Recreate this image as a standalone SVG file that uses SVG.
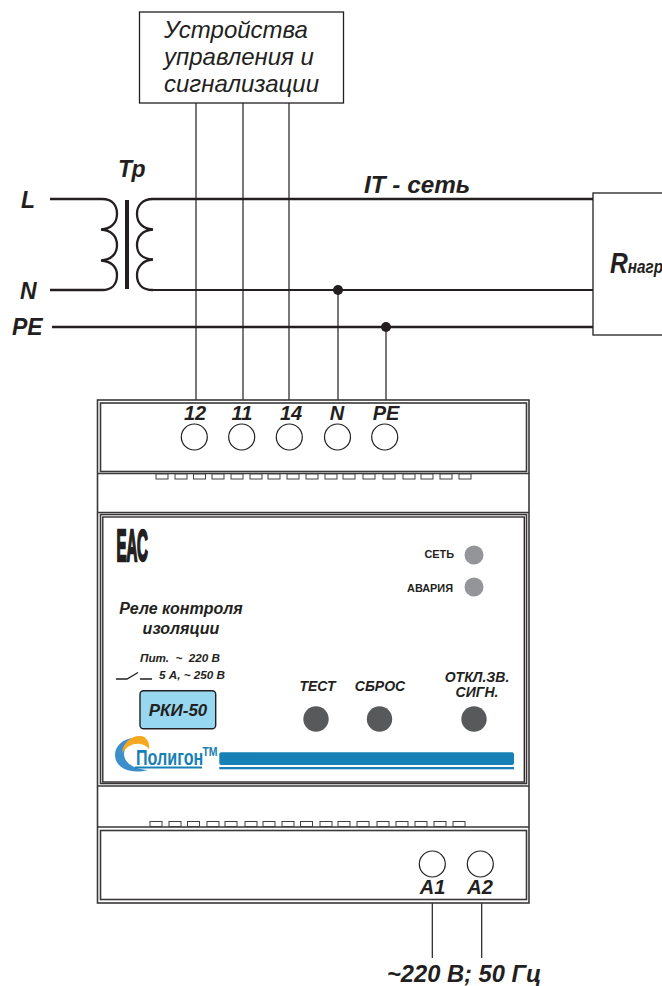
<svg xmlns="http://www.w3.org/2000/svg" width="662" height="986" viewBox="0 0 662 986">
<style>
text{font-family:"Liberation Sans",Arial,sans-serif;fill:#231f20;white-space:pre}
.bi{font-weight:bold;font-style:italic}
.i{font-style:italic}
.m{text-anchor:middle}
.b{fill:none;stroke:#231f20;stroke-width:1.3}
.d{fill:none;stroke:#3a3839;stroke-width:1.6}
.w{fill:none;stroke:#231f20;stroke-width:1.2}
.h{fill:none;stroke:#231f20;stroke-width:2.3}
.t{fill:#fff;stroke:#231f20;stroke-width:1.2}
.tab{fill:#fff;stroke:#414042;stroke-width:1}
.led{fill:#939598}
.btn{fill:#58595b}
.t20{font-size:20px}
.b13{font-size:14px}
</style>
<rect width="662" height="986" fill="#fff"/>
<g id="connectors">
<path class="w" d="M196 103V400M243 103V400M289 103V400M338 290V400M386 327V400M432.3 903V958M481.7 903V958"/>
<path class="h" d="M50 199H102M50 290H102M153 199H593M52 327H593"/>
<path class="h" style="stroke-width:1.9" d="M153 290H593"/>
<circle cx="338" cy="290" r="5" fill="#231f20"/>
<circle cx="386" cy="327" r="5" fill="#231f20"/>
</g>
<g id="control-box">
<rect class="b" x="139.5" y="12" width="204" height="91" fill="#fff"/>
<text class="i m" x="236" y="38" font-size="24">Устройства</text>
<text class="i m" x="239" y="65" font-size="24">управления и</text>
<text class="i m" x="241.500" y="92" font-size="24">сигнализации</text>
</g>
<g id="transformer">
<path class="h" d="M102 199C113 199 117 206 117 214C117 223 111 229 101 229.5C111 230 117 236 117 245C117 254 111 260 101 260.5C111 261 117 267 117 275C117 284 112 290 102 290"/>
<path class="h" d="M153 199C142 199 137 206 137 214C137 223 143 229 153 229.5C143 230 137 236 137 245C137 254 143 259 153 259.5C143 260 137 267 137 275C137 284 142 290 153 290"/>
<path d="M127 200V289" stroke="#231f20" stroke-width="4" fill="none"/>
<text class="bi" x="118" y="177" font-size="23">Тр</text>
</g>
<g id="line-labels">
<text class="bi" x="21" y="208" font-size="23">L</text>
<text class="bi" x="20" y="299" font-size="23">N</text>
<text class="bi" x="12" y="335" font-size="23">PE</text>
<text class="bi" x="364" y="193" font-size="24.300">IT - сеть</text>
</g>
<g id="load">
<rect class="b" x="593" y="193" width="80" height="142" fill="#fff"/>
<text class="bi" transform="translate(610 273) scale(.85 1)" font-size="29">R<tspan font-size="18">нагр</tspan></text>
</g>
<g id="relay-body">
<rect class="d" x="97.5" y="400" width="431.5" height="503" fill="#fff"/>
<rect class="d" x="100.5" y="403" width="426" height="68.5"/>
<path class="d" d="M97.5 473.5H529M97.5 512.5H529M97.5 786H529M97.5 827H529"/>
<rect class="d" x="100.5" y="514.5" width="426" height="269"/>
<rect class="b" x="102.8" y="517" width="421.5" height="265"/>
<rect class="d" x="100.5" y="830.5" width="426" height="69"/>
<g id="tabs-top">
<rect class="tab" x="156" y="474" width="12" height="5"/><rect class="tab" x="175" y="474" width="12" height="5"/><rect class="tab" x="193.500" y="474" width="12" height="5"/><rect class="tab" x="212" y="474" width="12" height="5"/><rect class="tab" x="231" y="474" width="12" height="5"/><rect class="tab" x="250" y="474" width="12" height="5"/><rect class="tab" x="268" y="474" width="12" height="5"/><rect class="tab" x="287" y="474" width="12" height="5"/><rect class="tab" x="306" y="474" width="12" height="5"/><rect class="tab" x="325" y="474" width="12" height="5"/><rect class="tab" x="343" y="474" width="12" height="5"/><rect class="tab" x="363" y="474" width="12" height="5"/><rect class="tab" x="383" y="474" width="12" height="5"/><rect class="tab" x="403" y="474" width="12" height="5"/><rect class="tab" x="421" y="474" width="12" height="5"/><rect class="tab" x="440" y="474" width="12" height="5"/><rect class="tab" x="459" y="474" width="12" height="5"/>
</g>
<g id="tabs-bottom">
<rect class="tab" x="150" y="821.500" width="12" height="5"/><rect class="tab" x="169" y="821.500" width="12" height="5"/><rect class="tab" x="187.500" y="821.500" width="12" height="5"/><rect class="tab" x="207" y="821.500" width="12" height="5"/><rect class="tab" x="225" y="821.500" width="12" height="5"/><rect class="tab" x="245" y="821.500" width="12" height="5"/><rect class="tab" x="263" y="821.500" width="12" height="5"/><rect class="tab" x="282" y="821.500" width="12" height="5"/><rect class="tab" x="300.500" y="821.500" width="12" height="5"/><rect class="tab" x="320" y="821.500" width="12" height="5"/><rect class="tab" x="338" y="821.500" width="12" height="5"/><rect class="tab" x="357" y="821.500" width="12" height="5"/><rect class="tab" x="377" y="821.500" width="12" height="5"/><rect class="tab" x="396" y="821.500" width="12" height="5"/><rect class="tab" x="415" y="821.500" width="12" height="5"/><rect class="tab" x="434" y="821.500" width="12" height="5"/><rect class="tab" x="453" y="821.500" width="12" height="5"/>
</g>
</g>
<g id="terminal-12"><circle class="t" cx="194.300" cy="437" r="13"/><text class="bi m t20" x="195" y="420">12</text></g>
<g id="terminal-11"><circle class="t" cx="241.700" cy="437" r="13"/><text class="bi m t20" x="242" y="420">11</text></g>
<g id="terminal-14"><circle class="t" cx="289.300" cy="437" r="13"/><text class="bi m t20" x="291" y="420">14</text></g>
<g id="terminal-N"><circle class="t" cx="337.500" cy="437" r="13"/><text class="bi m t20" x="337" y="420">N</text></g>
<g id="terminal-PE"><circle class="t" cx="384.700" cy="437" r="13"/><text class="bi m t20" x="386" y="420">PE</text></g>
<g id="terminal-A1"><circle class="t" cx="432.300" cy="864" r="13"/><text class="bi m t20" x="432.500" y="894">A1</text></g>
<g id="terminal-A2"><circle class="t" cx="480.300" cy="864" r="13"/><text class="bi m t20" x="480" y="894">A2</text></g>
<g id="panel">
<text transform="translate(116.500 561) scale(.335 1)" font-size="45" font-weight="bold" stroke="#231f20" stroke-width="2.500">ЕАС</text>
<text class="bi m" x="181" y="614" font-size="16">Реле контроля</text>
<text class="bi m" x="181" y="634" font-size="16">изоляции</text>
<text class="bi" x="140" y="662" font-size="11.700">Пит.  ~  220 В</text>
<text class="bi" x="159" y="679" font-size="11.700">5 А, ~ 250 В</text>
<path d="M116 679H127L138 672.500M140 679H152" fill="none" stroke="#231f20" stroke-width="1.300"/>
</g>
<g id="model"><rect x="140" y="690.700" width="75.700" height="38" rx="3.500" fill="#97d7f0" stroke="#231f20" stroke-width="1.400"/><text class="bi m" x="178" y="716" font-size="17">РКИ-50</text></g>
<g id="led-net"><circle class="led" cx="474" cy="555" r="9.500"/><text x="454" y="558" text-anchor="end" font-size="10.900" font-weight="bold">СЕТЬ</text></g>
<g id="led-alarm"><circle class="led" cx="474" cy="587" r="9.500"/><text x="453" y="592" text-anchor="end" font-size="10.900" font-weight="bold">АВАРИЯ</text></g>
<g id="btn-test"><circle class="btn" cx="316" cy="719" r="12.700"/><text class="bi m b13" x="317.500" y="691">ТЕСТ</text></g>
<g id="btn-reset"><circle class="btn" cx="379.500" cy="719" r="12.700"/><text class="bi m b13" x="380" y="691">СБРОС</text></g>
<g id="btn-mute"><circle class="btn" cx="474" cy="719" r="12.700"/><text class="bi m b13" x="477" y="682">ОТКЛ.ЗВ.</text><text class="bi m b13" x="477" y="697">СИГН.</text></g>
<g id="logo">
<path d="M135 738C123 738 115 746 115 755C115 767 129 775 148 770C135 769 125 764 124 755C124 749 127 745 132 743Z" fill="#3d8fcb"/>
<path d="M122 753C123 742 132 735 141 736C147 737 150 743 149 749C142 741 130 742 122 753Z" fill="#f6a821"/>
<text transform="translate(136 765) scale(.74 1)" font-size="21.800" font-weight="bold" style="fill:#1780b5">Полигон</text>
<path d="M135 767.500H202" stroke="#1780b5" stroke-width="2" fill="none"/>
<text transform="translate(202.500 755.500) scale(.87 1)" font-size="12" font-weight="bold" style="fill:#1780b5">ТМ</text>
<rect x="219.300" y="752.300" width="294.700" height="12.700" rx="2" fill="#1780b5"/>
<rect x="219.300" y="767" width="294.700" height="2.300" fill="#1780b5"/>
</g>
<g id="supply-label"><text class="bi" x="387" y="982" font-size="23.700">~220 В; 50 Гц</text></g>
</svg>
